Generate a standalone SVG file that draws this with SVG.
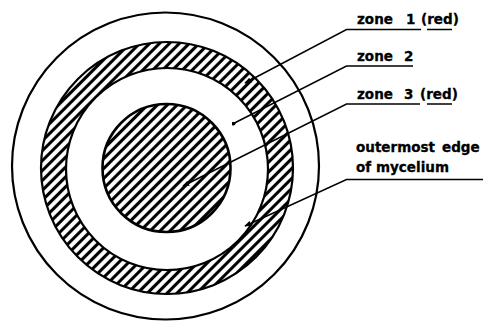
<svg xmlns="http://www.w3.org/2000/svg" width="483" height="321" viewBox="0 0 483 321">
<defs>
<pattern id="hatch" width="7" height="7" patternUnits="userSpaceOnUse" patternTransform="rotate(45)">
<rect width="7" height="7" fill="#fff"/>
<line x1="3.5" y1="-1" x2="3.5" y2="8" stroke="#000" stroke-width="3.1"/>
</pattern>
<marker id="arr" viewBox="0 0 10 8" refX="9" refY="4" markerWidth="7" markerHeight="5.5" orient="auto" markerUnits="userSpaceOnUse">
<path d="M0,0 L10,4 L0,8 Z" fill="#000"/>
</marker>
<marker id="dot" viewBox="0 0 4 4" refX="2" refY="2" markerWidth="4" markerHeight="4" markerUnits="userSpaceOnUse">
<circle cx="2" cy="2" r="2" fill="#000"/>
</marker>
</defs>
<style>
.ln{fill:none;stroke:#000;stroke-width:2.2}
.ld{fill:none;stroke:#000;stroke-width:1.5}
.t{font-family:"DejaVu Sans",sans-serif;font-weight:bold;font-size:13.5px;fill:#000;stroke:#000;stroke-width:0.3}
</style>
<rect width="483" height="321" fill="#fff"/>
<g id="outer-edge">
<circle cx="165.5" cy="166" r="153.5" class="ln"/>
</g>
<g id="zone1">
<path d="M167,42 a126,126 0 1,0 0.01,0 Z M167,68 a101,101 0 1,1 -0.01,0 Z" fill="url(#hatch)" fill-rule="evenodd"/>
<circle cx="167" cy="168" r="126" class="ln" stroke-width="2.6"/>
<circle cx="167" cy="169" r="101" class="ln" stroke-width="2.6"/>
</g>
<g id="zone3">
<circle cx="166.5" cy="168" r="64" fill="url(#hatch)" stroke="#000" stroke-width="2.6"/>
</g>
<g id="connectors">
<polyline points="421,29.5 346.5,29.5 245,83" class="ld" marker-end="url(#arr)"/>
<polyline points="413,66 346.5,66 233.5,123.5" class="ld" marker-end="url(#dot)"/>
<polyline points="420,104 346.5,104 183,186" class="ld" marker-end="url(#arr)"/>
<polyline points="483,179.5 346.5,179.5 245,226" class="ld" marker-end="url(#arr)"/>
<line x1="427" y1="29.5" x2="452" y2="29.5" class="ld"/>
<line x1="427" y1="104" x2="452" y2="104" class="ld"/>
</g>
<g id="label-zone1">
<text class="t" x="357" y="24">zone</text>
<text class="t" x="406" y="24">1</text>
<text class="t" x="421" y="24">(red)</text>
</g>
<g id="label-zone2">
<text class="t" x="357" y="61">zone</text>
<text class="t" x="404" y="61">2</text>
</g>
<g id="label-zone3">
<text class="t" x="357" y="99">zone</text>
<text class="t" x="404" y="99">3</text>
<text class="t" x="420" y="99">(red)</text>
</g>
<g id="label-outer">
<text class="t" x="356" y="152">outermost</text>
<text class="t" x="442" y="152">edge</text>
<text class="t" x="356" y="172">of</text>
<text class="t" x="376" y="172">mycelium</text>
</g>
</svg>
